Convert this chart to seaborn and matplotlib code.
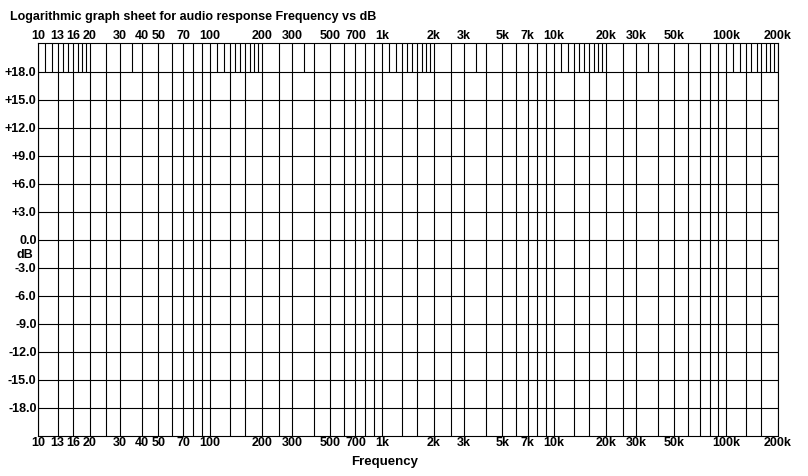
import seaborn as sns
import numpy as np
import matplotlib
import matplotlib.pyplot as plt

# grid sheet data
decades = [10, 100, 1000, 10000, 100000]
full_steps = [1, 1.3, 1.6, 2, 2.5, 3, 4, 5, 6, 7, 8, 9]
band_steps = [1.1, 1.2, 1.4, 1.5, 1.7, 1.8, 1.9, 3.5]
freq_ticks = [10, 13, 16, 20, 30, 40, 50, 70, 100, 200, 300, 500, 700, 1000, 2000, 3000,
              5000, 7000, 10000, 20000, 30000, 50000, 100000, 200000]
freq_labels = ["10", "13", "16", "20", "30", "40", "50", "70", "100", "200", "300", "500",
               "700", "1k", "2k", "3k", "5k", "7k", "10k", "20k", "30k", "50k", "100k", "200k"]
db_ticks = [18, 15, 12, 9, 6, 3, 0, -3, -6, -9, -12, -15, -18]
db_labels = ["+18.0", "+15.0", "+12.0", "+9.0", "+6.0", "+3.0", "0.0",
             "-3.0", "-6.0", "-9.0", "-12.0", "-15.0", "-18.0"]

sns.set_theme(style="white", rc={"axes.edgecolor": "black", "axes.linewidth": 0.8,
                                 "text.color": "black", "xtick.color": "black",
                                 "ytick.color": "black", "axes.labelcolor": "black"})
plt.rcParams['font.family'] = ['Liberation Sans', 'DejaVu Sans']
plt.rcParams['font.weight'] = 'bold'

fs = 9
fig = plt.figure(figsize=(8.08, 4.76), dpi=100)
ax = fig.add_axes([38 / 808, 1 - 436 / 476, 740 / 808, 393 / 476])

ylo, yhi = -21, 21.1
full_lines = [d * s for d in decades for s in full_steps if d * s <= 200000]
band_lines = [d * s for d in decades for s in band_steps if d * s <= 200000]

ax.vlines(full_lines, ylo, yhi, color="black", lw=0.8)
ax.vlines(band_lines, 18, yhi, color="black", lw=0.8)
ax.hlines(db_ticks, 10, 200000, color="black", lw=0.8)

ax.set_xscale("log")
ax.set_xlim(10, 200000)
ax.set_ylim(ylo, yhi)
ax.set_xticks(freq_ticks)
ax.set_xticklabels(freq_labels)
ax.minorticks_off()
ax.set_yticks(db_ticks)
ax.set_yticklabels(db_labels)
ax.tick_params(axis="x", length=0, pad=1, labelsize=fs, top=True, labeltop=True)
ax.tick_params(axis="y", length=0, pad=1, labelsize=fs)
for lbl in ax.get_xticklabels() + ax.get_yticklabels():
    lbl.set_fontweight("bold")

ax.set_xlabel("Frequency", fontsize=9.5, fontweight="bold")
ax.xaxis.set_label_coords((385 - 38) / 740, -0.05)
ax.set_ylabel("dB", rotation=0, fontsize=fs, fontweight="bold", va="center", ha="center")
ax.yaxis.set_label_coords(-0.018, (436 - 255) / 393)

fig.text(10 / 808, 1 - 17 / 476, "Logarithmic graph sheet for audio response Frequency vs dB",
         fontsize=fs, fontweight="bold", va="center", ha="left")

plt.savefig("out.png", dpi=100)
